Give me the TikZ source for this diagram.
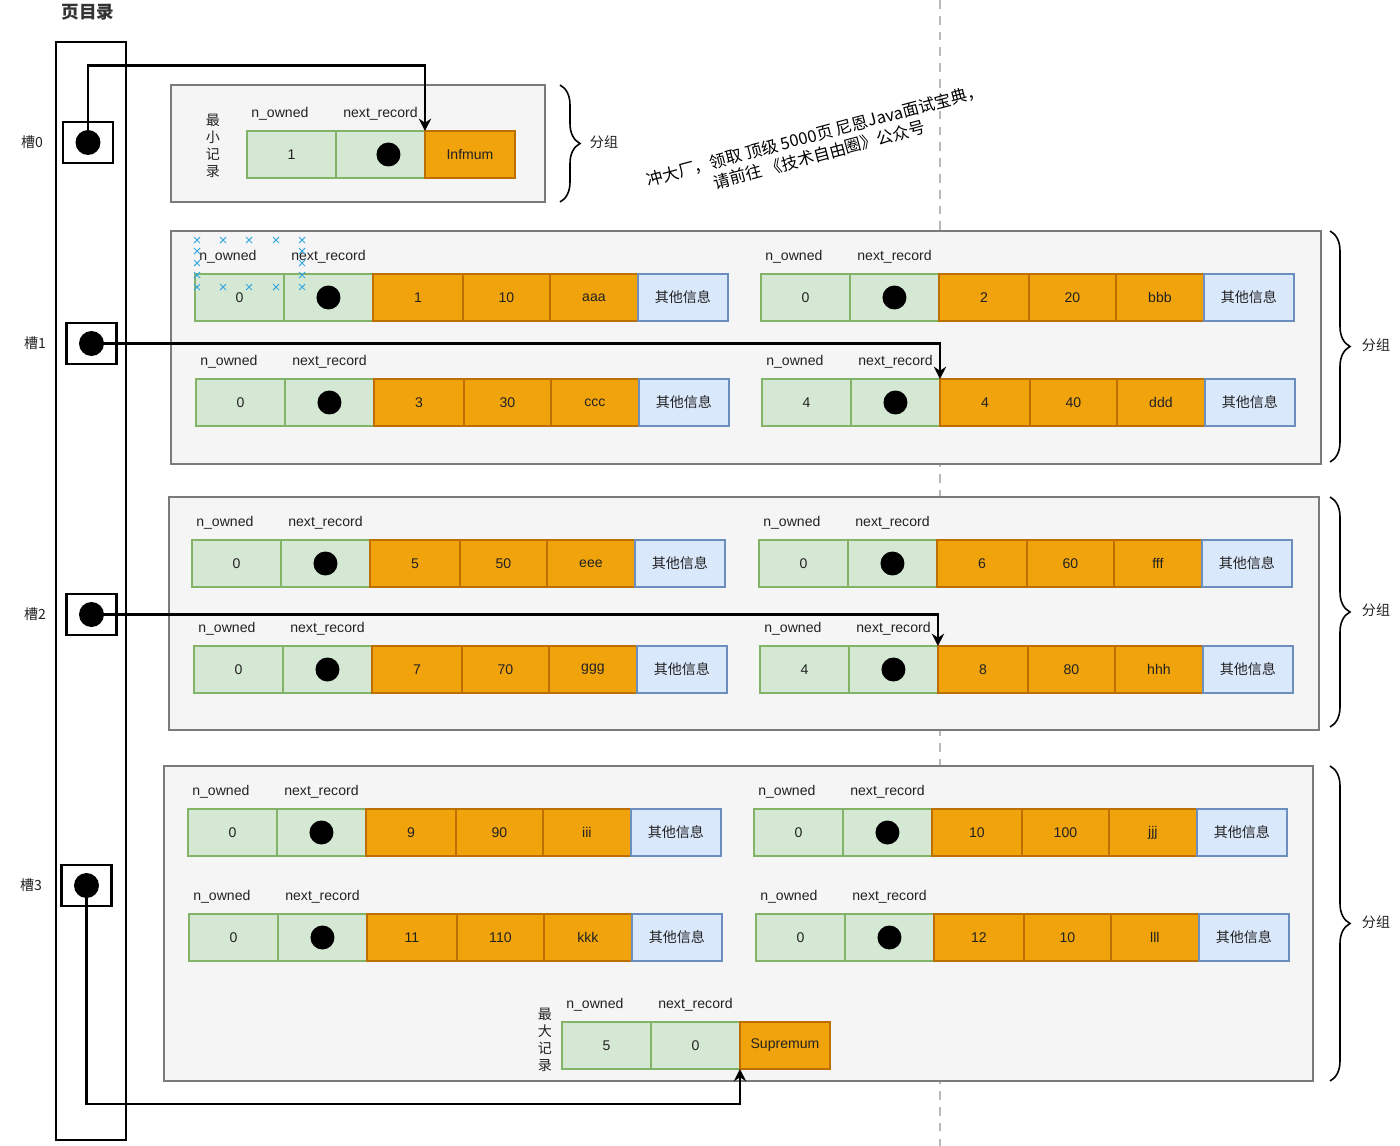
\documentclass[tikz,border=0pt]{standalone}
\usepackage{fontspec}
\setmainfont{Liberation Sans}
\newfontfamily\cjk{Noto Sans CJK SC}
\usetikzlibrary{positioning,arrows.meta,calc,decorations.pathreplacing}
\definecolor{gfill}{HTML}{D5E8D4}
\definecolor{gline}{HTML}{82B366}
\definecolor{ofill}{HTML}{F0A30A}
\definecolor{oline}{HTML}{BD7000}
\definecolor{bfill}{HTML}{DAE8FC}
\definecolor{bline}{HTML}{6C8EBF}
\definecolor{grpfill}{HTML}{F5F5F5}
\definecolor{grpline}{HTML}{7A7A7A}
\definecolor{selblue}{HTML}{3AA8E0}
\definecolor{txt}{HTML}{222222}

\tikzset{
  cell/.style={draw, line width=1pt, minimum height=0.94cm, inner sep=0pt, outer sep=0pt,
    text=txt, font=\fontsize{8pt}{9pt}\selectfont},
  gcell/.style={cell, fill=gfill, draw=gline, minimum width=1.78cm},
  ocell/.style={cell, fill=ofill, draw=oline, minimum width=#1},
  ocell/.default=1.78cm,
  bcell/.style={cell, fill=bfill, draw=bline, minimum width=1.8cm, font=\cjk\fontsize{8pt}{9pt}\selectfont},
  dot/.style={circle, fill=black, minimum size=0.48cm, inner sep=0pt},
  lbl/.style={inner sep=0pt, text=txt, font=\fontsize{8pt}{9pt}\selectfont},
  grp/.style={draw=grpline, fill=grpfill, line width=1.1pt},
  brc/.style={decorate, decoration={brace, amplitude=0.4cm}, line width=0.9pt},
  link/.style={-{Stealth[length=7pt,width=7pt]}, line width=1.3pt},
}

% one record: name, top left corner, n_owned, key, value, column
\newcommand{\rec}[6]{%
  \node[gcell, anchor=north west] (#1n) at (#2) {#3};
  \node[gcell, right=0pt of #1n] (#1p) {};
  \node[dot] (#1d) at (#1p) {};
  \node[ocell=1.8cm, right=0pt of #1p] (#1k) {#4};
  \node[ocell=1.74cm, right=0pt of #1k] (#1v) {#5};
  \node[ocell=1.76cm, right=0pt of #1v] (#1c) {#6};
  \node[bcell, right=0pt of #1c] (#1i) {其他信息};
  \node[lbl, anchor=base west] (#1ln) at ($(#1n.north west)+(4,-14)$) {n\_owned};
  \node[lbl, anchor=base] (#1lp) at ($(#1p.north)+(0,-14)$) {next\_record};
}

\begin{document}
\begin{tikzpicture}[x=0.02cm, y=-0.02cm]
  \useasboundingbox (0,0) rectangle (1400,1146);
  \draw[gray!55, line width=1.5pt, dash pattern=on 5pt off 4pt] (940,0) -- (940,1146);

  % page directory
  \node[font=\cjk\bfseries\fontsize{10pt}{12pt}\selectfont, text=black!80] (title) at (88,12) {页目录};
  \node[draw, line width=1.4pt, minimum width=1.4cm, minimum height=21.96cm, anchor=north west] (pd) at (55,41) {};
  \begin{scope}[every node/.style={draw, line width=1.4pt, minimum width=1cm, minimum height=0.82cm}]
    \node (k0) at (88,142.5) {};
    \node (k1) at (91.5,343.5) {};
    \node (k2) at (91.5,614.5) {};
    \node (k3) at (86.5,885.5) {};
  \end{scope}
  \begin{scope}[every node/.style={dot, minimum size=0.5cm}]
    \node (c0) at (k0) {};
    \node (c1) at (k1) {};
    \node (c2) at (k2) {};
    \node (c3) at (k3) {};
  \end{scope}
  \begin{scope}[every node/.style={font=\cjk\fontsize{8pt}{9pt}\selectfont, text=txt}]
    \node (s0) at (32,142) {槽0};
    \node (s1) at (35,343) {槽1};
    \node (s2) at (35,614) {槽2};
    \node (s3) at (31,885) {槽3};
  \end{scope}

  % groups
  \draw[grp] (171,85) rectangle (545,202);
  \draw[grp] (171,231) rectangle (1321,464);
  \draw[grp] (169,497) rectangle (1319,730);
  \draw[grp] (164,766) rectangle (1313,1081);

  % minimum record
  \node[align=center, text=txt, font=\cjk\fontsize{8pt}{9.6pt}\selectfont] (minl) at (213,146) {最\\小\\记\\录};
  \node[gcell, anchor=north west] (minn) at (247,131) {1};
  \node[gcell, right=0pt of minn] (minp) {};
  \node[dot] (mind) at ($(minp)+(8,0)$) {};
  \node[ocell=1.8cm, right=0pt of minp] (inf) {Infmum};
  \node[lbl, anchor=base west] at ($(minn.north west)+(4,-14)$) {n\_owned};
  \node[lbl, anchor=base] at ($(minp.north)+(0,-14)$) {next\_record};

  \rec{ra}{195,274}{0}{1}{10}{aaa}
  \rec{rb}{761,274}{0}{2}{20}{bbb}
  \rec{rc}{196,379}{0}{3}{30}{ccc}
  \rec{rd}{762,379}{4}{4}{40}{ddd}

  \rec{re}{192,540}{0}{5}{50}{eee}
  \rec{rf}{759,540}{0}{6}{60}{fff}
  \rec{rg}{194,646}{0}{7}{70}{ggg}
  \rec{rh}{760,646}{4}{8}{80}{hhh}

  \rec{ri}{188,809}{0}{9}{90}{iii}
  \rec{rj}{754,809}{0}{10}{100}{jjj}
  \rec{rk}{189,914}{0}{11}{110}{kkk}
  \rec{rl}{756,914}{0}{12}{10}{lll}

  % maximum record
  \node[align=center, text=txt, font=\cjk\fontsize{8pt}{9.6pt}\selectfont] (maxl) at (545,1040) {最\\大\\记\\录};
  \node[gcell, anchor=north west] (maxn) at (562,1022) {5};
  \node[gcell, right=0pt of maxn] (maxp) {0};
  \node[ocell=1.8cm, right=0pt of maxp] (sup) {Supremum};
  \node[lbl, anchor=base west] at ($(maxn.north west)+(4,-14)$) {n\_owned};
  \node[lbl, anchor=base] at ($(maxp.north)+(0,-14)$) {next\_record};

  % selection marks
  \foreach \x/\y in {197/240,223/240,249/240,276/240,302/240,197/251,197/263,197/275,
      197/287,223/287,249/287,276/287,302/287,302/251,302/263,302/275}
    \draw[selblue, line width=0.6pt] (\x-3,\y-3) -- (\x+3,\y+3) (\x-3,\y+3) -- (\x+3,\y-3);

  % slot pointers
  \draw[link] (c0.center) -- ++(0,-77) -| (inf.north west);
  \draw[link] (c1.center) -| (rdk.north west);
  \draw[link] (c2.center) -| (rhk.north west);
  \draw[link] (c3.center) |- ($(sup.south west)+(0,35)$) -- (sup.south west);

  % braces
  \draw[brc] (560,85) -- (560,202);
  \draw[brc] (1330,231) -- (1330,462);
  \draw[brc] (1330,497) -- (1330,727);
  \draw[brc] (1330,766) -- (1330,1081);
  \begin{scope}[every node/.style={font=\cjk\fontsize{8pt}{9pt}\selectfont, text=txt}]
    \node (g0) at (604,142) {分组};
    \node (g1) at (1376,345) {分组};
    \node (g2) at (1376,610) {分组};
    \node (g3) at (1376,922) {分组};
  \end{scope}

  \node[rotate=15, align=center, text=black, font=\cjk\fontsize{9.4pt}{11.5pt}\selectfont] (wm) at (817,145)
    {冲大厂，领取 顶级 5000页 尼恩Java面试宝典，\\请前往 《技术自由圈》公众号};
\end{tikzpicture}
\end{document}
